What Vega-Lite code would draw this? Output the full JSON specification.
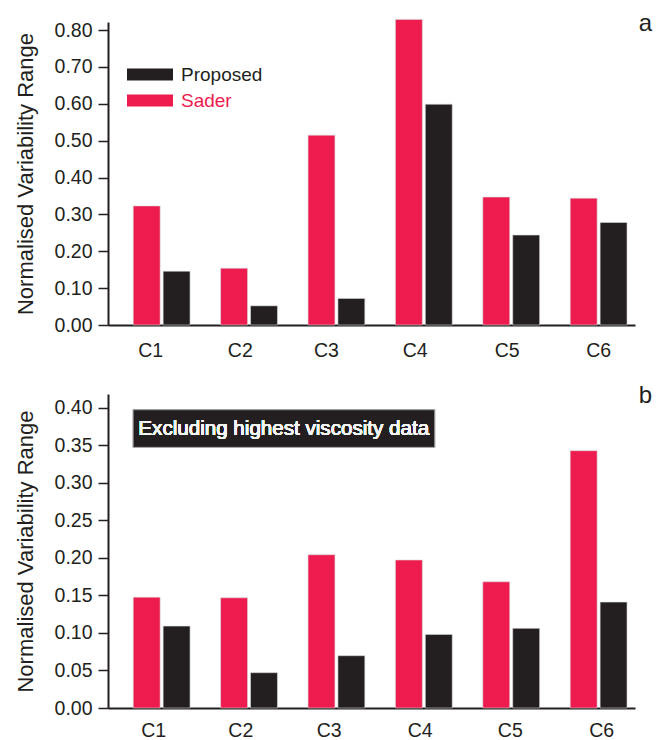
{
  "$schema": "https://vega.github.io/schema/vega-lite/v6.json",
  "background": "white",
  "padding": {"left": 14, "top": 12, "right": 5, "bottom": 2},
  "config": {
    "font": "Liberation Sans",
    "view": {"stroke": null},
    "axis": {"grid": false, "domainColor": "#231f20", "tickColor": "#231f20", "labelColor": "#231f20", "titleColor": "#231f20", "labelFont": "Liberation Sans", "titleFont": "Liberation Sans"},
    "concat": {"spacing": 24}
  },
  "datasets": {
    "a": [
      {"cat": "C1", "method": "Sader", "value": 0.323},
      {"cat": "C1", "method": "Proposed", "value": 0.146},
      {"cat": "C2", "method": "Sader", "value": 0.154},
      {"cat": "C2", "method": "Proposed", "value": 0.052},
      {"cat": "C3", "method": "Sader", "value": 0.515},
      {"cat": "C3", "method": "Proposed", "value": 0.072},
      {"cat": "C4", "method": "Sader", "value": 0.829},
      {"cat": "C4", "method": "Proposed", "value": 0.599},
      {"cat": "C5", "method": "Sader", "value": 0.347},
      {"cat": "C5", "method": "Proposed", "value": 0.244},
      {"cat": "C6", "method": "Sader", "value": 0.344},
      {"cat": "C6", "method": "Proposed", "value": 0.278}
    ],
    "b": [
      {"cat": "C1", "method": "Sader", "value": 0.1475},
      {"cat": "C1", "method": "Proposed", "value": 0.109},
      {"cat": "C2", "method": "Sader", "value": 0.1467},
      {"cat": "C2", "method": "Proposed", "value": 0.047},
      {"cat": "C3", "method": "Sader", "value": 0.204},
      {"cat": "C3", "method": "Proposed", "value": 0.0696},
      {"cat": "C4", "method": "Sader", "value": 0.197},
      {"cat": "C4", "method": "Proposed", "value": 0.098},
      {"cat": "C5", "method": "Sader", "value": 0.168},
      {"cat": "C5", "method": "Proposed", "value": 0.106},
      {"cat": "C6", "method": "Sader", "value": 0.3425},
      {"cat": "C6", "method": "Proposed", "value": 0.141}
    ]
  },
  "resolve": {"legend": {"color": "independent"}, "scale": {"y": "independent"}},
  "vconcat": [
    {
      "width": 527,
      "height": 303,
      "title": {"text": "a", "anchor": "end", "frame": "group", "fontSize": 24, "fontWeight": "normal", "color": "#231f20", "offset": -17, "dx": 17},
      "data": {"name": "a"},
      "mark": {"type": "bar", "stroke": "#d8d8d8", "strokeWidth": 0.6},
      "encoding": {
        "x": {"field": "cat", "type": "nominal", "title": null,
              "scale": {"paddingInner": 0.35, "paddingOuter": 0.19, "align": 0.76},
              "axis": {"labelAngle": 0, "ticks": false, "tickSize": 0, "labelPadding": 16, "labelFontSize": 19.5, "domainWidth": 2,
                       "labelOffset": {"expr": "datum.value === 'C1' ? -11 : datum.value === 'C2' ? -8.7 : datum.value === 'C3' ? -10 : datum.value === 'C4' ? -8.7 : datum.value === 'C5' ? -4 : 0"}}},
        "xOffset": {"field": "method", "type": "nominal", "sort": ["Sader", "Proposed"], "scale": {"paddingInner": 0.1, "paddingOuter": 0}},
        "y": {"field": "value", "type": "quantitative", "title": "Normalised Variability Range",
              "scale": {"domain": [0, 0.822], "nice": false, "zero": true},
              "axis": {"values": [0, 0.1, 0.2, 0.3, 0.4, 0.5, 0.6, 0.7, 0.8], "format": ".2f", "labelOverlap": false, "tickSize": 10, "tickWidth": 1.5, "domainWidth": 2, "labelPadding": 6, "labelFontSize": 19.5, "titleFontSize": 22, "titleFontWeight": "normal", "titlePadding": 17}},
        "color": {"field": "method", "type": "nominal",
                  "scale": {"domain": ["Proposed", "Sader"], "range": ["#231f20", "#ee1b4f"]},
                  "legend": {"title": null, "orient": "none", "legendX": 30.5, "legendY": 41, "symbolType": "M-2,-0.52H2V0.52H-2Z", "symbolSize": 529, "symbolStrokeWidth": 0, "labelFontSize": 19, "labelOffset": 19.5, "rowPadding": 4,
                             "labelColor": {"expr": "datum.label === 'Sader' ? '#ee1b4f' : '#231f20'"}}}
      }
    },
    {
      "width": 527,
      "height": 314,
      "title": {"text": "b", "anchor": "end", "frame": "group", "fontSize": 24, "fontWeight": "normal", "color": "#231f20", "offset": -14, "dx": 17},
      "data": {"name": "b"},
      "layer": [
        {
          "mark": {"type": "bar", "stroke": "#d8d8d8", "strokeWidth": 0.6},
          "encoding": {
            "x": {"field": "cat", "type": "nominal", "title": null,
                  "scale": {"paddingInner": 0.35, "paddingOuter": 0.19, "align": 0.76},
                  "axis": {"labelAngle": 0, "ticks": false, "tickSize": 0, "labelPadding": 13, "labelFontSize": 19.5, "domainWidth": 2,
                           "labelOffset": {"expr": "datum.value === 'C1' ? -7.9 : datum.value === 'C2' ? -8.2 : datum.value === 'C3' ? -7.3 : datum.value === 'C4' ? -3.7 : datum.value === 'C5' ? -0.9 : 3"}}},
            "xOffset": {"field": "method", "type": "nominal", "sort": ["Sader", "Proposed"], "scale": {"paddingInner": 0.1, "paddingOuter": 0}},
            "y": {"field": "value", "type": "quantitative", "title": "Normalised Variability Range",
                  "scale": {"domain": [0, 0.418], "nice": false, "zero": true},
                  "axis": {"values": [0, 0.05, 0.1, 0.15, 0.2, 0.25, 0.3, 0.35, 0.4], "format": ".2f", "labelOverlap": false, "tickSize": 10, "tickWidth": 1.5, "domainWidth": 2, "labelPadding": 6, "labelFontSize": 19.5, "titleFontSize": 22, "titleFontWeight": "normal", "titlePadding": 17}},
            "color": {"field": "method", "type": "nominal",
                      "scale": {"domain": ["Proposed", "Sader"], "range": ["#231f20", "#ee1b4f"]},
                      "legend": null}
          }
        },
        {
          "mark": {"type": "rect", "color": "#231f20", "stroke": "#c8c8c8", "strokeWidth": 0.6},
          "encoding": {
            "x": {"datum": "C1", "type": "nominal", "bandPosition": 0},
            "x2": {"datum": "C4", "bandPosition": 0.69},
            "y": {"datum": 0.397, "type": "quantitative",
                  "axis": {"values": [0, 0.05, 0.1, 0.15, 0.2, 0.25, 0.3, 0.35, 0.4], "format": ".2f", "labelOverlap": false, "tickSize": 10, "tickWidth": 1.5, "domainWidth": 2, "labelPadding": 6, "labelFontSize": 19.5, "titleFontSize": 22, "titleFontWeight": "normal", "titlePadding": 17}},
            "y2": {"datum": 0.347}
          }
        },
        {
          "mark": {"type": "text", "fill": "#f4f4f4", "strokeWidth": 0, "fontSize": 20.6, "align": "left", "baseline": "middle", "text": "Excluding highest viscosity data"},
          "encoding": {
            "x": {"datum": "C1", "type": "nominal", "bandPosition": 0.09},
            "y": {"datum": 0.371, "type": "quantitative",
                  "axis": {"values": [0, 0.05, 0.1, 0.15, 0.2, 0.25, 0.3, 0.35, 0.4], "format": ".2f", "labelOverlap": false, "tickSize": 10, "tickWidth": 1.5, "domainWidth": 2, "labelPadding": 6, "labelFontSize": 19.5, "titleFontSize": 22, "titleFontWeight": "normal", "titlePadding": 17}}
          }
        }
      ]
    }
  ]
}
